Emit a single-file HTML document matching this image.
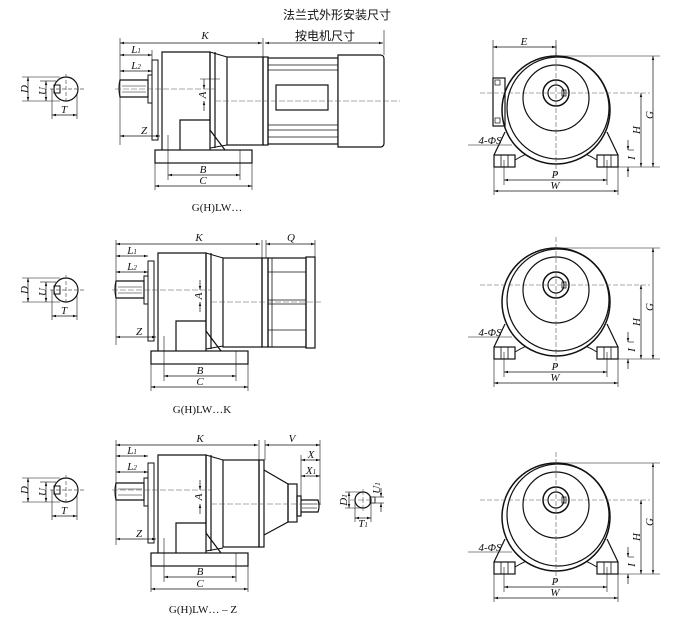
<!DOCTYPE html>
<html><head><meta charset="utf-8"><style>
html,body{margin:0;padding:0;background:#fff;}
svg{display:block;}
text{font-family:"Liberation Serif","Noto Serif CJK SC",serif;fill:#111;}
.i{font-style:italic;font-size:11px;}
</style></head><body>
<svg width="698" height="620" viewBox="0 0 698 620" xmlns="http://www.w3.org/2000/svg">
<defs>
<marker id="a" viewBox="0 0 10 10" refX="10" refY="5" markerWidth="6" markerHeight="6" orient="auto-start-reverse"><path d="M0,2 L10,5 L0,8 z" fill="#111"/></marker>
<g id="shaftEnd">
  <circle cx="66" cy="0" r="12" fill="none" stroke="#111" stroke-width="1.2"/>
  <rect x="54" y="-4" width="6" height="8" fill="none" stroke="#111"/>
  <line x1="50" y1="0" x2="85" y2="0" stroke="#555" stroke-dasharray="4,2" stroke-width="0.7"/>
  <line x1="66" y1="-15" x2="66" y2="15" stroke="#555" stroke-dasharray="4,2" stroke-width="0.7"/>
  <line x1="22" y1="-12" x2="60" y2="-12" stroke="#111" stroke-width="0.6"/>
  <line x1="22" y1="12" x2="60" y2="12" stroke="#111" stroke-width="0.6"/>
  <line x1="28" y1="-12" x2="28" y2="12" stroke="#111" stroke-width="0.7" marker-start="url(#a)" marker-end="url(#a)"/>
  <line x1="46" y1="-8" x2="46" y2="12" stroke="#111" stroke-width="0.7" marker-start="url(#a)" marker-end="url(#a)"/>
  <line x1="40" y1="-8" x2="56" y2="-8" stroke="#111" stroke-width="0.6"/>
  <line x1="52" y1="0" x2="52" y2="30" stroke="#111" stroke-width="0.6"/>
  <line x1="77" y1="5" x2="77" y2="30" stroke="#111" stroke-width="0.6"/>
  <line x1="52" y1="26" x2="77" y2="26" stroke="#111" stroke-width="0.7" marker-start="url(#a)" marker-end="url(#a)"/>
  <text class="i" x="24" y="4" transform="rotate(-90 24 0)" text-anchor="middle">D</text>
  <text class="i" x="42" y="6" transform="rotate(-90 42 2)" text-anchor="middle">U</text>
  <text class="i" x="64" y="24" text-anchor="middle">T</text>
</g>
<g id="endView" stroke="#111" fill="none" stroke-width="1.2">
  <path d="M505,132 L494,155 M607,132 L618,155"/>
  <path d="M515,160 Q556,135 597,160" stroke-width="1"/>
  <rect x="494" y="155" width="21" height="12"/>
  <line x1="501" y1="155" x2="501" y2="167" stroke-width="0.8"/><line x1="508" y1="155" x2="508" y2="167" stroke-width="0.8"/>
  <rect x="597" y="155" width="21" height="12"/>
  <line x1="604" y1="155" x2="604" y2="167" stroke-width="0.8"/><line x1="611" y1="155" x2="611" y2="167" stroke-width="0.8"/>
  <circle cx="556" cy="110" r="54" fill="#fff" stroke-width="1.5"/>
  <circle cx="558" cy="108" r="51"/>
  <circle cx="556" cy="98" r="33"/>
  <circle cx="556" cy="93" r="13" stroke-width="1.5"/>
  <circle cx="556" cy="93" r="8"/>
  <rect x="562" y="90" width="4" height="6" stroke-width="0.8"/>
  <g stroke-width="0.6" stroke="#555" stroke-dasharray="5,2"><line x1="480" y1="93" x2="650" y2="93"/><line x1="556" y1="45" x2="556" y2="178"/></g>
  <g stroke-width="0.6">
    <line x1="556" y1="56" x2="660" y2="56"/><line x1="618" y1="167" x2="660" y2="167"/>
    <line x1="494" y1="167" x2="494" y2="195"/><line x1="618" y1="167" x2="618" y2="195"/>
    <line x1="504" y1="160" x2="504" y2="185"/><line x1="607" y1="160" x2="607" y2="185"/>
    <line x1="628" y1="150" x2="634" y2="150"/>
    <line x1="468" y1="145" x2="512" y2="145"/>
  </g>
  <g stroke-width="0.7">
    <line x1="653" y1="56" x2="653" y2="167" marker-start="url(#a)" marker-end="url(#a)"/>
    <line x1="641" y1="93" x2="641" y2="167" marker-start="url(#a)" marker-end="url(#a)"/>
    <line x1="628" y1="140" x2="628" y2="150" marker-end="url(#a)"/>
    <line x1="628" y1="177" x2="628" y2="167" marker-end="url(#a)"/>
    <line x1="504" y1="180" x2="607" y2="180" marker-start="url(#a)" marker-end="url(#a)"/>
    <line x1="494" y1="191" x2="618" y2="191" marker-start="url(#a)" marker-end="url(#a)"/>
  </g>
</g>
<g id="gearFront" stroke="#111" fill="none" stroke-width="1.2">
  <!-- base -->
  <rect x="155" y="150" width="97" height="13"/>
  <path d="M162,150 L162,52 L210,52 L210,130 L225,150"/>
  <path d="M180,150 L180,120 L210,120"/>
  <path d="M152,60 L158,60 L158,140 L152,140 Z" stroke-width="1"/>
  <path d="M148,75 L152,75 L152,103 L148,103 Z" stroke-width="1"/>
  <path d="M120,80 L148,80 L148,97 L120,97 Q118,88 120,80 Z"/>
  <line x1="122" y1="86" x2="146" y2="86" stroke-width="0.6"/><line x1="122" y1="92" x2="146" y2="92" stroke-width="0.6"/>
  <path d="M210,52 L210,150 M215,52 L215,148" />
  <path d="M210,52 L227,57 M210,148 L227,145" stroke-width="1"/>
</g>
</defs>

<text x="337" y="19" font-size="12" text-anchor="middle" style="font-family:'Liberation Sans','Noto Sans CJK SC',sans-serif">法兰式外形安装尺寸</text>

<!-- ROW 1 -->
<use href="#shaftEnd" transform="translate(0,89)"/>
<use href="#gearFront"/>
<g stroke="#111" fill="none" stroke-width="1.2">
  <rect x="227" y="57" width="36" height="88"/>
  <rect x="263" y="57" width="5" height="88"/>
  <rect x="268" y="58" width="70" height="86"/>
  <g stroke-width="0.8"><line x1="268" y1="65" x2="338" y2="65"/><line x1="268" y1="70" x2="338" y2="70"/><line x1="268" y1="125" x2="338" y2="125"/><line x1="268" y1="130" x2="338" y2="130"/><line x1="268" y1="137" x2="338" y2="137"/></g>
  <rect x="276" y="85" width="52" height="25" fill="#fff"/>
  <path d="M338,55 L380,55 Q384,55 384,59 L384,143 Q384,147 380,147 L338,147 Z" fill="#fff"/>
</g>
<g stroke="#111" stroke-width="0.6" fill="none">
  <line x1="120" y1="38" x2="120" y2="145"/><line x1="263" y1="38" x2="263" y2="57"/><line x1="384" y1="30" x2="384" y2="55"/>
  <line x1="168" y1="135" x2="168" y2="180"/><line x1="240" y1="150" x2="240" y2="180"/>
  <line x1="155" y1="163" x2="155" y2="190"/><line x1="252" y1="163" x2="252" y2="190"/>
  <line x1="152" y1="50" x2="152" y2="75"/>
  <line x1="200" y1="79" x2="220" y2="79"/>
</g>
<g stroke="#555" stroke-width="0.6" stroke-dasharray="6,2"><line x1="115" y1="89" x2="215" y2="89"/><line x1="215" y1="101" x2="400" y2="101"/></g>
<g stroke="#111" stroke-width="0.7">
  <line x1="120" y1="43" x2="262" y2="43" marker-start="url(#a)" marker-end="url(#a)"/>
  <line x1="265" y1="43" x2="383" y2="43" marker-start="url(#a)" marker-end="url(#a)"/>
  <line x1="120" y1="55" x2="152" y2="55" marker-start="url(#a)" marker-end="url(#a)"/>
  <line x1="120" y1="71" x2="152" y2="71" marker-start="url(#a)" marker-end="url(#a)"/>
  <line x1="120" y1="136" x2="160" y2="136" marker-start="url(#a)" marker-end="url(#a)"/>
  <line x1="168" y1="175" x2="240" y2="175" marker-start="url(#a)" marker-end="url(#a)"/>
  <line x1="155" y1="186" x2="252" y2="186" marker-start="url(#a)" marker-end="url(#a)"/>
  <line x1="204" y1="79" x2="204" y2="89" marker-end="url(#a)"/>
  <line x1="204" y1="111" x2="204" y2="101" marker-end="url(#a)"/>
</g>
<text class="i" x="205" y="39" text-anchor="middle">K</text>
<text x="325" y="40" font-size="12" text-anchor="middle" style="font-family:'Liberation Sans','Noto Sans CJK SC',sans-serif">按电机尺寸</text>
<text class="i" x="136" y="53" text-anchor="middle">L<tspan font-size="7">1</tspan></text>
<text class="i" x="136" y="69" text-anchor="middle">L<tspan font-size="7">2</tspan></text>
<text class="i" x="144" y="134" text-anchor="middle">Z</text>
<text class="i" x="203" y="173" text-anchor="middle">B</text>
<text class="i" x="203" y="184" text-anchor="middle">C</text>
<text class="i" x="203" y="98" transform="rotate(-90 203 95)" text-anchor="middle">A</text>
<text x="217" y="211" font-size="11" text-anchor="middle">G(H)LW…</text>
<use href="#endView"/>
<g stroke="#111" fill="none" stroke-width="1.2"><rect x="493" y="78" width="12" height="48"/><rect x="495" y="80" width="5" height="5" stroke-width="0.7"/><rect x="495" y="118" width="5" height="5" stroke-width="0.7"/></g>
<g stroke="#111" stroke-width="0.6"><line x1="493" y1="40" x2="493" y2="78"/><line x1="556" y1="40" x2="556" y2="56"/></g>
<line x1="493" y1="47" x2="556" y2="47" stroke="#111" stroke-width="0.7" marker-start="url(#a)" marker-end="url(#a)"/>
<text class="i" x="524" y="45" text-anchor="middle">E</text>
<text class="i" x="490" y="144" text-anchor="middle">4-ΦS</text>
<text class="i" x="632" y="161" transform="rotate(-90 632 158)" text-anchor="middle">I</text>
<text class="i" x="637" y="133" transform="rotate(-90 637 130)" text-anchor="middle">H</text>
<text class="i" x="650" y="118" transform="rotate(-90 650 115)" text-anchor="middle">G</text>
<text class="i" x="555" y="178" text-anchor="middle">P</text>
<text class="i" x="555" y="189" text-anchor="middle">W</text>

<!-- ROW 2 -->
<use href="#shaftEnd" transform="translate(0,290)"/>
<use href="#gearFront" transform="translate(-4,201)"/>
<g stroke="#111" fill="none" stroke-width="1.2">
  <rect x="223" y="258" width="39" height="89"/>
  <rect x="262" y="258" width="6" height="89"/>
  <rect x="268" y="258" width="38" height="89"/>
  <g stroke-width="0.8"><line x1="272" y1="258" x2="272" y2="347"/><line x1="268" y1="272" x2="306" y2="272"/><line x1="268" y1="300" x2="306" y2="300"/><line x1="268" y1="304" x2="306" y2="304"/><line x1="268" y1="330" x2="306" y2="330"/></g>
  <rect x="306" y="257" width="9" height="91"/>
</g>
<g stroke="#111" stroke-width="0.6" fill="none">
  <line x1="116" y1="240" x2="116" y2="345"/><line x1="262" y1="240" x2="262" y2="258"/><line x1="315" y1="240" x2="315" y2="257"/><line x1="266" y1="240" x2="266" y2="258"/>
  <line x1="164" y1="336" x2="164" y2="381"/><line x1="236" y1="351" x2="236" y2="381"/>
  <line x1="151" y1="364" x2="151" y2="391"/><line x1="248" y1="364" x2="248" y2="391"/>
</g>
<g stroke="#555" stroke-width="0.6" stroke-dasharray="6,2"><line x1="112" y1="290" x2="211" y2="290"/><line x1="211" y1="302" x2="322" y2="302"/></g>
<g stroke="#111" stroke-width="0.7">
  <line x1="116" y1="244" x2="260" y2="244" marker-start="url(#a)" marker-end="url(#a)"/>
  <line x1="266" y1="244" x2="315" y2="244" marker-start="url(#a)" marker-end="url(#a)"/>
  <line x1="116" y1="256" x2="148" y2="256" marker-start="url(#a)" marker-end="url(#a)"/>
  <line x1="116" y1="272" x2="148" y2="272" marker-start="url(#a)" marker-end="url(#a)"/>
  <line x1="116" y1="337" x2="156" y2="337" marker-start="url(#a)" marker-end="url(#a)"/>
  <line x1="164" y1="376" x2="236" y2="376" marker-start="url(#a)" marker-end="url(#a)"/>
  <line x1="151" y1="387" x2="248" y2="387" marker-start="url(#a)" marker-end="url(#a)"/>
  <line x1="200" y1="280" x2="200" y2="290" marker-end="url(#a)"/>
  <line x1="200" y1="312" x2="200" y2="302" marker-end="url(#a)"/>
</g>
<text class="i" x="199" y="241" text-anchor="middle">K</text>
<text class="i" x="291" y="241" text-anchor="middle">Q</text>
<text class="i" x="132" y="254" text-anchor="middle">L<tspan font-size="7">1</tspan></text>
<text class="i" x="132" y="270" text-anchor="middle">L<tspan font-size="7">2</tspan></text>
<text class="i" x="139" y="335" text-anchor="middle">Z</text>
<text class="i" x="200" y="374" text-anchor="middle">B</text>
<text class="i" x="200" y="385" text-anchor="middle">C</text>
<text class="i" x="199" y="299" transform="rotate(-90 199 296)" text-anchor="middle">A</text>
<text x="202" y="413" font-size="11" text-anchor="middle">G(H)LW…K</text>
<g transform="translate(0,192)">
<use href="#endView"/>
<text class="i" x="490" y="144" text-anchor="middle">4-ΦS</text>
<text class="i" x="632" y="161" transform="rotate(-90 632 158)" text-anchor="middle">I</text>
<text class="i" x="637" y="133" transform="rotate(-90 637 130)" text-anchor="middle">H</text>
<text class="i" x="650" y="118" transform="rotate(-90 650 115)" text-anchor="middle">G</text>
<text class="i" x="555" y="178" text-anchor="middle">P</text>
<text class="i" x="555" y="189" text-anchor="middle">W</text>
</g>

<!-- ROW 3 -->
<use href="#shaftEnd" transform="translate(0,490)"/>
<use href="#gearFront" transform="translate(-4,403)"/>
<g stroke="#111" fill="none" stroke-width="1.2">
  <rect x="223" y="460" width="36" height="87"/>
  <rect x="259" y="460" width="5" height="87"/>
  <path d="M264,470 L288,484 L288,522 L264,535"/>
  <rect x="288" y="484" width="9" height="38"/>
  <rect x="297" y="496" width="4" height="20"/>
  <path d="M301,500 L318,500 Q320,506 318,512 L301,512"/>
  <line x1="302" y1="504" x2="317" y2="504" stroke-width="0.6"/><line x1="302" y1="508" x2="317" y2="508" stroke-width="0.6"/>
  <circle cx="363" cy="500" r="8"/>
  <rect x="370" y="497" width="5" height="6" stroke-width="0.8"/>
</g>
<g stroke="#111" stroke-width="0.6" fill="none">
  <line x1="116" y1="440" x2="116" y2="545"/><line x1="259" y1="440" x2="259" y2="460"/><line x1="265" y1="440" x2="265" y2="460"/><line x1="320" y1="440" x2="320" y2="505"/>
  <line x1="301" y1="455" x2="301" y2="500"/>
  <line x1="164" y1="538" x2="164" y2="582"/><line x1="236" y1="553" x2="236" y2="582"/>
  <line x1="151" y1="566" x2="151" y2="592"/><line x1="248" y1="566" x2="248" y2="592"/>
  <line x1="345" y1="492" x2="363" y2="492"/><line x1="345" y1="508" x2="363" y2="508"/>
  <line x1="355" y1="500" x2="355" y2="522"/><line x1="371" y1="500" x2="371" y2="522"/>
  <line x1="375" y1="497" x2="384" y2="497"/><line x1="375" y1="503" x2="384" y2="503"/>
</g>
<g stroke="#555" stroke-width="0.6" stroke-dasharray="6,2"><line x1="112" y1="490" x2="211" y2="490"/><line x1="211" y1="504" x2="322" y2="504"/><line x1="350" y1="500" x2="376" y2="500"/><line x1="363" y1="489" x2="363" y2="511"/></g>
<g stroke="#111" stroke-width="0.7">
  <line x1="116" y1="445" x2="258" y2="445" marker-start="url(#a)" marker-end="url(#a)"/>
  <line x1="265" y1="445" x2="320" y2="445" marker-start="url(#a)" marker-end="url(#a)"/>
  <line x1="301" y1="460" x2="320" y2="460" marker-start="url(#a)" marker-end="url(#a)"/>
  <line x1="301" y1="476" x2="320" y2="476" marker-start="url(#a)" marker-end="url(#a)"/>
  <line x1="116" y1="456" x2="148" y2="456" marker-start="url(#a)" marker-end="url(#a)"/>
  <line x1="116" y1="472" x2="148" y2="472" marker-start="url(#a)" marker-end="url(#a)"/>
  <line x1="116" y1="539" x2="156" y2="539" marker-start="url(#a)" marker-end="url(#a)"/>
  <line x1="164" y1="577" x2="236" y2="577" marker-start="url(#a)" marker-end="url(#a)"/>
  <line x1="151" y1="589" x2="248" y2="589" marker-start="url(#a)" marker-end="url(#a)"/>
  <line x1="200" y1="480" x2="200" y2="490" marker-end="url(#a)"/>
  <line x1="200" y1="514" x2="200" y2="504" marker-end="url(#a)"/>
  <line x1="349" y1="492" x2="349" y2="508" marker-start="url(#a)" marker-end="url(#a)"/>
  <line x1="355" y1="518" x2="371" y2="518" marker-start="url(#a)" marker-end="url(#a)"/>
  <line x1="381" y1="488" x2="381" y2="497" marker-end="url(#a)"/>
  <line x1="381" y1="512" x2="381" y2="503" marker-end="url(#a)"/>
</g>
<text class="i" x="200" y="442" text-anchor="middle">K</text>
<text class="i" x="292" y="442" text-anchor="middle">V</text>
<text class="i" x="311" y="458" text-anchor="middle">X</text>
<text class="i" x="311" y="474" text-anchor="middle">X<tspan font-size="7">1</tspan></text>
<text class="i" x="132" y="454" text-anchor="middle">L<tspan font-size="7">1</tspan></text>
<text class="i" x="132" y="470" text-anchor="middle">L<tspan font-size="7">2</tspan></text>
<text class="i" x="139" y="537" text-anchor="middle">Z</text>
<text class="i" x="200" y="575" text-anchor="middle">B</text>
<text class="i" x="200" y="587" text-anchor="middle">C</text>
<text class="i" x="199" y="500" transform="rotate(-90 199 497)" text-anchor="middle">A</text>
<text class="i" x="344" y="503" transform="rotate(-90 344 500)" text-anchor="middle">D<tspan font-size="7">1</tspan></text>
<text class="i" x="363" y="527" text-anchor="middle">T<tspan font-size="7">1</tspan></text>
<text class="i" x="377" y="491" transform="rotate(-90 377 488)" text-anchor="middle">U<tspan font-size="7">1</tspan></text>
<text x="203" y="613" font-size="11" text-anchor="middle">G(H)LW… – Z</text>
<g transform="translate(0,407)">
<use href="#endView"/>
<text class="i" x="490" y="144" text-anchor="middle">4-ΦS</text>
<text class="i" x="632" y="161" transform="rotate(-90 632 158)" text-anchor="middle">I</text>
<text class="i" x="637" y="133" transform="rotate(-90 637 130)" text-anchor="middle">H</text>
<text class="i" x="650" y="118" transform="rotate(-90 650 115)" text-anchor="middle">G</text>
<text class="i" x="555" y="178" text-anchor="middle">P</text>
<text class="i" x="555" y="189" text-anchor="middle">W</text>
</g>
</svg>
</body></html>
